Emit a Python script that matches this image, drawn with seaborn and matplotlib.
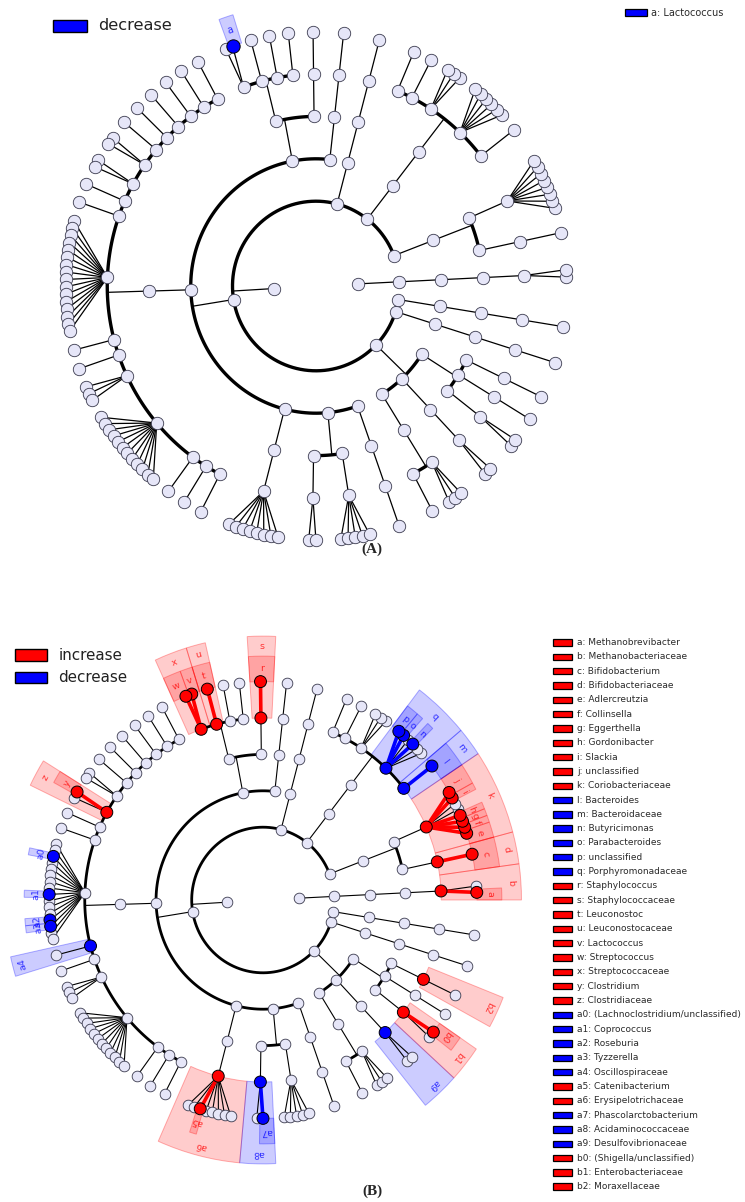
import numpy as np
import pandas as pd
import matplotlib
matplotlib.use("Agg")
import matplotlib.pyplot as plt
from matplotlib.colors import to_rgb
from matplotlib.patches import Wedge, Rectangle
import seaborn as sns

sns.set_style("white")
plt.rcParams["font.family"] = ["DejaVu Sans"]

# ── Tree, counter-clockwise from 3 o'clock ────────────────────────────
# phylum = list of classes, class = list of orders, order = list of families
# family = (name, genera): genera is a count of unnamed genera or a list of names ('' = unnamed)
euryarchaeota = [[[("Methanobacteriaceae", ["Methanobrevibacter", ""])]]]
actinobacteria = [[[("Bifidobacteriaceae", ["Bifidobacterium"])],
                   [("Coriobacteriaceae", ["Adlercreutzia", "Collinsella", "Eggerthella", "Gordonibacter",
                                           "", "", "Slackia", "unclassified"])]]]
bacteroidetes = [[[("Bacteroidaceae", ["Bacteroides"]),
                   ("Porphyromonadaceae", ["", "", "Butyricimonas", "", "Parabacteroides", "unclassified"]),
                   ("", 3), ("", 1), ("", 1)]]]
phylum_74 = [[[("", 1)]]]
firmicutes = [
    [[("", 1)]],
    [[("Staphylococcaceae", ["Staphylococcus"])],
     [("", 1), ("", 1), ("Leuconostocaceae", ["Leuconostoc"]),
      ("Streptococcaceae", ["Lactococcus", "Streptococcus"])]],
    [[("", 1), ("", 1), ("", 1), ("", 1), ("", 1), ("", 1), ("", 2),
      ("Clostridiaceae", ["Clostridium", ""]), ("", 1), ("", 1),
      ("Lachnospiraceae", ["", "", "(Lachnoclostridium/unclassified)", "", "", "", "", "",
                           "Coprococcus", "", "", "", "Roseburia", "Tyzzerella", "", ""]),
      ("Oscillospiraceae", 1), ("", 1), ("", 3), ("", 12), ("", 1), ("", 1), ("", 1)]],
    [[("Erysipelotrichaceae", ["", "", "Catenibacterium", "", "", "", "", ""])]],
    [[("Acidaminococcaceae", ["", "Phascolarctobacterium"])], [("", 5)]],
    [[("", 1)]],
]
proteobacteria = [
    [[("", 1), ("", 3)]],
    [[("Desulfovibrionaceae", 2)]],
    [[("Enterobacteriaceae", ["", "(Shigella/unclassified)"])], [("", 1)], [("Moraxellaceae", 1)]],
]
phylum_342 = [[[("", 1)]]]
phylum_351 = [[[("", 1)]]]

kingdoms = [("Archaea", [euryarchaeota]),
            ("Bacteria", [actinobacteria, bacteroidetes, phylum_74, firmicutes,
                          proteobacteria, phylum_342, phylum_351])]

# angle between neighbouring leaves by how many ranks up they split (deg)
split_gap = [1.65, 4.3, 5.6, 6.9, 8.2, 8.3]
first_leaf_deg, last_leaf_deg = 2.0, 350.8

# ── Biomarkers ────────────────────────────────────────────────────────
a_labels = ["a"]
a_fams = ["Streptococcaceae"]
a_gens = ["Lactococcus"]
a_dirs = ["dec"]

b_labels = ["a", "b", "c", "d", "e", "f", "g", "h", "i", "j", "k", "l", "m", "n", "o", "p", "q",
            "r", "s", "t", "u", "v", "w", "x", "y", "z", "a0", "a1", "a2", "a3", "a4", "a5",
            "a6", "a7", "a8", "a9", "b0", "b1", "b2"]
b_fams = ["Methanobacteriaceae", "Methanobacteriaceae", "Bifidobacteriaceae", "Bifidobacteriaceae",
          "Coriobacteriaceae", "Coriobacteriaceae", "Coriobacteriaceae", "Coriobacteriaceae",
          "Coriobacteriaceae", "Coriobacteriaceae", "Coriobacteriaceae",
          "Bacteroidaceae", "Bacteroidaceae", "Porphyromonadaceae", "Porphyromonadaceae",
          "Porphyromonadaceae", "Porphyromonadaceae", "Staphylococcaceae", "Staphylococcaceae",
          "Leuconostocaceae", "Leuconostocaceae", "Streptococcaceae", "Streptococcaceae",
          "Streptococcaceae", "Clostridiaceae", "Clostridiaceae", "Lachnospiraceae",
          "Lachnospiraceae", "Lachnospiraceae", "Lachnospiraceae", "Oscillospiraceae",
          "Erysipelotrichaceae", "Erysipelotrichaceae", "Acidaminococcaceae", "Acidaminococcaceae",
          "Desulfovibrionaceae", "Enterobacteriaceae", "Enterobacteriaceae", "Moraxellaceae"]
b_gens = ["Methanobrevibacter", "", "Bifidobacterium", "", "Adlercreutzia", "Collinsella",
          "Eggerthella", "Gordonibacter", "Slackia", "unclassified", "", "Bacteroides", "",
          "Butyricimonas", "Parabacteroides", "unclassified", "", "Staphylococcus", "",
          "Leuconostoc", "", "Lactococcus", "Streptococcus", "", "Clostridium", "",
          "(Lachnoclostridium/unclassified)", "Coprococcus", "Roseburia", "Tyzzerella", "",
          "Catenibacterium", "", "Phascolarctobacterium", "", "", "(Shigella/unclassified)", "", ""]
b_dirs = ["inc"] * 11 + ["dec"] * 6 + ["inc"] * 9 + ["dec"] * 5 + ["inc"] * 2 + ["dec"] * 3 + ["inc"] * 3

colors = {"inc": "#ff0000", "dec": "#0000ff"}
node_fill, node_edge = "#e6e6f8", "#3a3a4e"

# ── Build tree ────────────────────────────────────────────────────────
nodes, leaves, fam_path, gen_path = {}, [], {}, {}


def add(path, level):
    nodes[path] = {"level": level, "children": []}
    if level > 0:
        nodes[path[:-1]]["children"].append(path)


add((), 0)
for ki, (kname, phyla) in enumerate(kingdoms):
    add((ki,), 1)
    for pi, classes in enumerate(phyla):
        pp = (ki, pi)
        add(pp, 2)
        for ci, orders in enumerate(classes):
            cp = pp + (ci,)
            add(cp, 3)
            for oi, fams in enumerate(orders):
                op = cp + (oi,)
                add(op, 4)
                for fi, (fname, genera) in enumerate(fams):
                    fp = op + (fi,)
                    add(fp, 5)
                    if fname:
                        fam_path[fname] = fp
                    if isinstance(genera, int):
                        genera = [""] * genera
                    for gi, gname in enumerate(genera):
                        gp = fp + (gi,)
                        add(gp, 6)
                        leaves.append(gp)
                        if gname:
                            gen_path[(fname, gname)] = gp

steps = [0.0]
for a, b in zip(leaves[:-1], leaves[1:]):
    k = next(i for i in range(6) if a[i] != b[i])
    steps.append(split_gap[5 - k])
cum = np.cumsum(steps)
ang = first_leaf_deg + cum / cum[-1] * (last_leaf_deg - first_leaf_deg)

# leaves get their slot angle, inner nodes the mean angle of everything below them
theta = {l: t for l, t in zip(leaves, ang)}
for p in sorted((q for q in nodes if q and nodes[q]["level"] < 6), key=len, reverse=True):
    theta[p] = np.mean([theta[q] for q in nodes if len(q) > len(p) and q[:len(p)] == p])


def xy(p):
    L, t = nodes[p]["level"], np.radians(theta[p])
    return L * np.cos(t), L * np.sin(t)


def span(p):
    idx = [i for i, l in enumerate(leaves) if l[:len(p)] == p]
    i0, i1 = min(idx), max(idx)
    lo = (ang[i0] + ang[i0 - 1]) / 2 if i0 > 0 else max(0.0, (ang[0] + ang[-1] - 360) / 2)
    hi = (ang[i1] + ang[i1 + 1]) / 2 if i1 < len(leaves) - 1 else (ang[-1] + ang[0] + 360) / 2
    return lo, hi


def draw_panel(ax, labels, fams, gens, dirs, s_node, s_mark, lw_arc, lw_line, lw_mark, fs):
    status = {}
    for lab, f, g, d in zip(labels, fams, gens, dirs):
        p = gen_path[(f, g)] if g else fam_path[f]
        status[p] = d
        lo, hi = span(p)
        r_in, r_out, r_txt = (6.0, 6.7, 6.36) if g else (5.0, 7.25, 6.97)
        rgb = to_rgb(colors[d])
        ax.add_patch(Wedge((0, 0), r_out, lo, hi, width=r_out - r_in, facecolor=(*rgb, 0.2),
                           edgecolor=(*rgb, 0.3), lw=0.7, zorder=0))
        tm = (lo + hi) / 2
        ax.text(r_txt * np.cos(np.radians(tm)), r_txt * np.sin(np.radians(tm)), lab,
                rotation=tm - 90, rotation_mode="anchor", ha="center", va="center",
                color=colors[d], alpha=0.75, fontsize=fs, zorder=6)

    for p, nd in nodes.items():
        L = nd["level"]
        if L == 0 or not nd["children"]:
            continue
        x0, y0 = xy(p)
        if L == 5:
            for c in nd["children"]:
                x1, y1 = xy(c)
                if p in status and c in status:
                    ax.plot([x0, x1], [y0, y1], color=colors[status[c]], lw=lw_mark, zorder=2)
                else:
                    ax.plot([x0, x1], [y0, y1], color="k", lw=lw_line, zorder=1)
        else:
            t = np.radians(theta[p])
            ax.plot([x0, (L + 1) * np.cos(t)], [y0, (L + 1) * np.sin(t)], color="k", lw=lw_line, zorder=1)
            tk = [theta[c] for c in nd["children"]] + [theta[p]]
            ts = np.radians(np.linspace(min(tk), max(tk), 120))
            ax.plot((L + 1) * np.cos(ts), (L + 1) * np.sin(ts), color="k", lw=lw_arc,
                    solid_capstyle="round", zorder=1)

    pts = pd.DataFrame([(*xy(p), status.get(p, "none")) for p in nodes if p],
                       columns=["x", "y", "status"])
    sns.scatterplot(data=pts[pts.status == "none"], x="x", y="y", color=node_fill, s=s_node,
                    edgecolor=node_edge, linewidth=0.6, ax=ax, zorder=4, legend=False)
    sns.scatterplot(data=pts[pts.status != "none"], x="x", y="y", hue="status", palette=colors,
                    s=s_mark, edgecolor="k", linewidth=0.7, ax=ax, zorder=5, legend=False)
    ax.set_axis_off()


W, H = 745, 1202
fig = plt.figure(figsize=(W / 100, H / 100), dpi=100)

# panel A: centre (316, 286) px, one rank = 41.75 x 42.4 px
cxA, cyA, sxA, syA, topA, botA = 316, 286, 41.75, 42.4, 0, 560
axA = fig.add_axes([0, 1 - botA / H, 1, (botA - topA) / H])
draw_panel(axA, a_labels, a_fams, a_gens, a_dirs, 80, 92, 2.4, 0.9, 2.4, 7)
axA.set_xlim(-cxA / sxA, (W - cxA) / sxA)
axA.set_ylim((cyA - botA) / syA, (cyA - topA) / syA)

# panel B: centre (263, 900) px, one rank = 35.65 x 36.4 px
cxB, cyB, sxB, syB, topB, botB = 263, 900, 35.65, 36.4, 600, H
axB = fig.add_axes([0, 0, 1, (botB - topB) / H])
draw_panel(axB, b_labels, b_fams, b_gens, b_dirs, 59, 74, 2.0, 0.8, 2.6, 6.8)
axB.set_xlim(-cxB / sxB, (W - cxB) / sxB)
axB.set_ylim((cyB - botB) / syB, (cyB - topB) / syB)

# ── Legends and panel letters (figure pixel coordinates) ──────────────
axo = fig.add_axes([0, 0, 1, 1], zorder=10)
axo.set_xlim(0, W)
axo.set_ylim(H, 0)
axo.set_axis_off()

axo.add_patch(Rectangle((53, 20), 34, 12, fc=colors["dec"], ec="k", lw=1))
axo.text(98, 26, "decrease", fontsize=11.6, va="center", color="#222222")
for i, (lab, f, g, d) in enumerate(zip(a_labels, a_fams, a_gens, a_dirs)):
    axo.add_patch(Rectangle((625, 9.3), 22, 6.4, fc=colors[d], ec="k", lw=0.9))
    axo.text(651, 12.5, f"{lab}: {g or f}", fontsize=7.0, va="center", color="#2a2a2a")

axo.add_patch(Rectangle((15, 649.3), 32, 11.4, fc=colors["inc"], ec="k", lw=1))
axo.text(59, 655, "increase", fontsize=10.9, va="center", color="#222222")
axo.add_patch(Rectangle((15, 671.7), 32, 11, fc=colors["dec"], ec="k", lw=1))
axo.text(58, 677.2, "decrease", fontsize=10.9, va="center", color="#222222")

for i, (lab, f, g, d) in enumerate(zip(b_labels, b_fams, b_gens, b_dirs)):
    yc = 642.5 + i * 14.32
    axo.add_patch(Rectangle((552.7, yc - 3.2), 19, 6.4, fc=colors[d], ec="k", lw=0.9))
    axo.text(576.7, yc, f"{lab}: {g or f}", fontsize=6.5, va="center", color="#2a2a2a")

axo.text(372, 549, "(A)", fontsize=11, fontweight="bold", family="Liberation Serif",
         ha="center", va="center")
axo.text(372, 1191, "(B)", fontsize=11, fontweight="bold", family="Liberation Serif",
         ha="center", va="center")

fig.savefig("out.png", dpi=100)
